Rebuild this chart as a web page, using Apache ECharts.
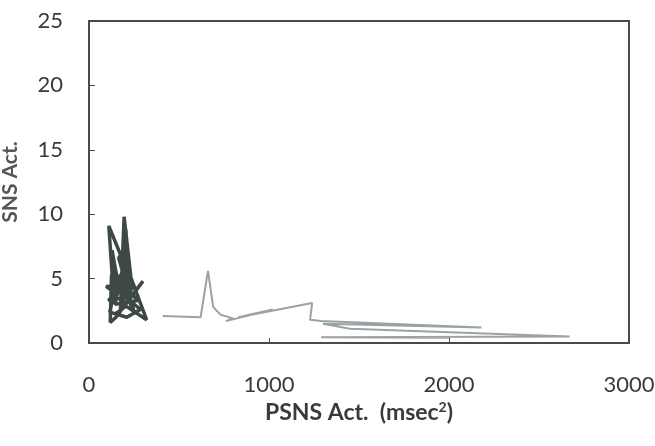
<!DOCTYPE html>
<html>
<head>
<meta charset="utf-8">
<script src="https://cdn.jsdelivr.net/npm/echarts@6/dist/echarts.min.js"></script>
<style>
  html, body { margin: 0; padding: 0; background: #fff; }
  #chart { width: 655px; height: 446px; }
</style>
</head>
<body>
<div id="chart"></div>
<script>
// Axis ranges and tick labels
const xTicks = [0, 1000, 2000, 3000];
const yTicks = [0, 5, 10, 15, 20, 25];

// Dark trajectory: [PSNS activity (msec^2), SNS activity]
const darkPath = [
  [200, 6.0], [110, 9.1], [135, 4.0], [95, 4.4], [240, 4.2], [195, 9.8],
  [175, 2.6], [300, 4.8], [150, 2.0], [118, 1.6], [125, 5.3], [235, 5.0],
  [320, 1.8], [190, 3.0], [212, 7.6], [165, 6.6], [255, 2.2], [182, 4.6],
  [108, 3.3], [225, 3.6], [205, 8.8], [188, 5.9], [145, 3.0], [270, 3.3],
  [160, 5.0], [115, 2.4], [210, 2.0], [285, 2.6], [170, 4.0], [128, 7.2],
  [150, 3.8], [245, 4.6], [200, 2.8], [140, 2.2]
];

// Light trajectory: [PSNS activity (msec^2), SNS activity]
const lightPath = [
  [410, 2.1], [620, 2.0], [661, 5.6], [690, 2.8], [730, 2.2], [800, 1.9],
  [760, 1.7], [1020, 2.6], [830, 2.0], [1240, 3.1], [1228, 1.8], [1290, 1.7],
  [2180, 1.2], [1300, 1.5], [1450, 1.1], [2670, 0.5], [1290, 0.45], [2000, 0.4]
];

const chart = echarts.init(document.getElementById('chart'), null, { renderer: 'canvas' });

const labelFont = { fontFamily: 'Lato, "Open Sans", sans-serif', fontSize: 22, color: '#3a3a3a' };

chart.setOption({
  animation: false,
  grid: {
    left: 89, right: 26, top: 21, bottom: 103,
    containLabel: false, outerBoundsMode: 'none',
    show: true, borderColor: '#4a4a4a', borderWidth: 2, backgroundColor: '#fff'
  },
  xAxis: {
    type: 'value',
    min: xTicks[0], max: xTicks[xTicks.length - 1], interval: 1000,
    axisLine: { show: true, lineStyle: { color: '#4a4a4a', width: 2 } },
    axisTick: { show: true, inside: true, length: 5, lineStyle: { color: '#4a4a4a' } },
    splitLine: { show: false },
    axisLabel: { margin: 31, formatter: v => String(v), ...labelFont },
    name: 'PSNS Act.  (msec{sup|2})',
    nameLocation: 'middle',
    nameGap: 56,
    nameTextStyle: {
      fontFamily: 'Lato, "Open Sans", sans-serif', fontSize: 23, fontWeight: 'bold', color: '#3a3a3a',
      rich: { sup: { fontSize: 14, fontWeight: 'bold', verticalAlign: 'top', padding: [0, 0, 9, 0], color: '#3a3a3a' } }
    }
  },
  yAxis: {
    type: 'value',
    min: yTicks[0], max: yTicks[yTicks.length - 1], interval: 5,
    axisLine: { show: true, lineStyle: { color: '#4a4a4a', width: 2 } },
    axisTick: { show: true, inside: true, length: 6, lineStyle: { color: '#4a4a4a' } },
    splitLine: { show: false },
    axisLabel: { margin: 26, formatter: v => String(v), ...labelFont },
    name: 'SNS Act.',
    nameLocation: 'middle',
    nameGap: 68,
    nameTextStyle: { fontFamily: 'Lato, "Open Sans", sans-serif', fontSize: 21, fontWeight: 'bold', color: '#555' }
  },
  series: [
    {
      type: 'line', data: lightPath, symbol: 'none',
      lineStyle: { color: '#9ba2a5', width: 2 }, z: 2
    },
    {
      type: 'line', data: darkPath, symbol: 'none',
      lineStyle: { color: '#3e4947', width: 3.5 }, z: 3
    }
  ]
});
</script>
</body>
</html>
